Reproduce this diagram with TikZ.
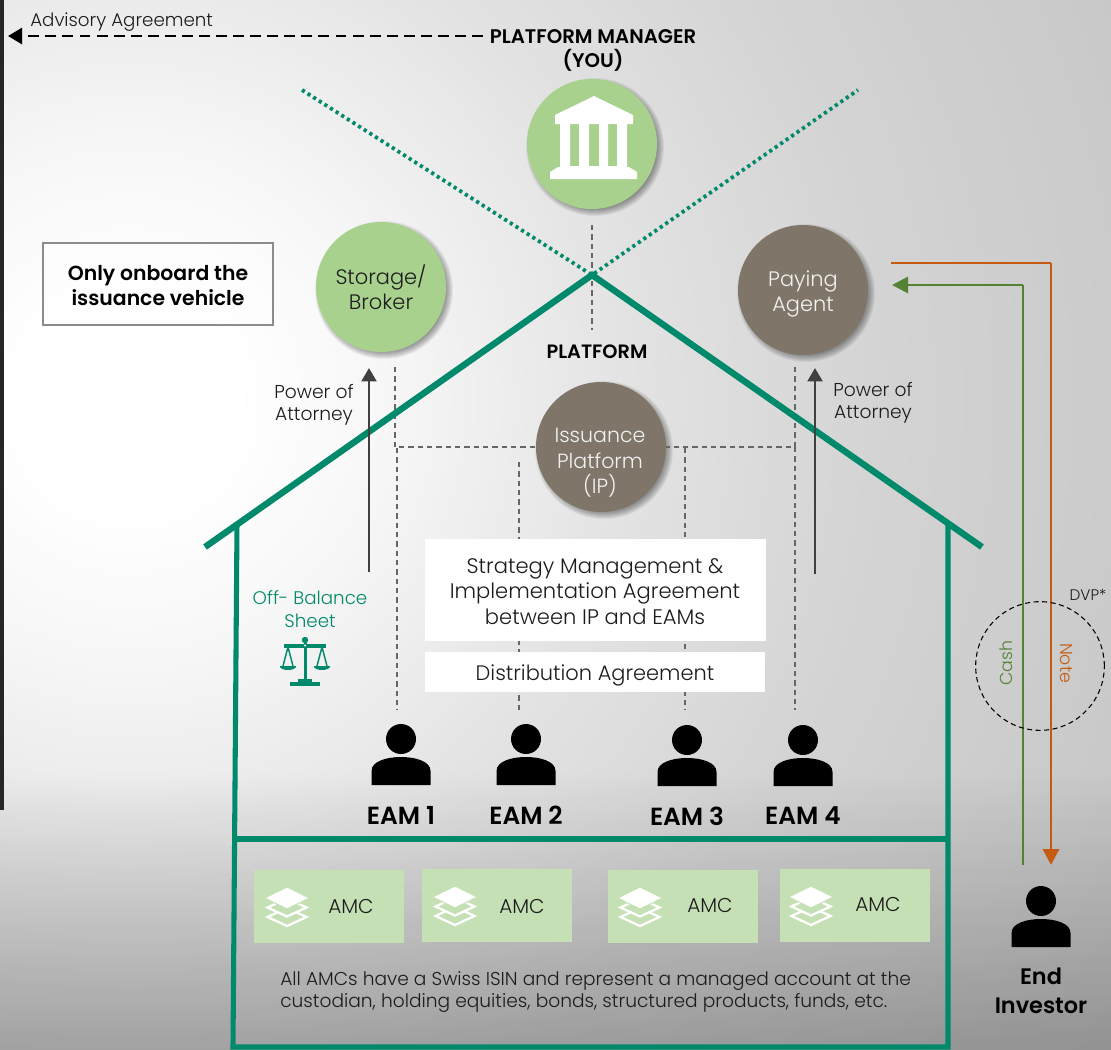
\documentclass[tikz,border=0pt]{standalone}
\usepackage{fontspec}
\setmainfont{Poppins Light}[BoldFont={Poppins SemiBold}]
\usetikzlibrary{arrows.meta}
\pgfdeclareradialshading{bgrad}{\pgfpoint{0bp}{0bp}}{color(0bp)=(white);color(2bp)=(white);color(4.8bp)=(black!3);color(9.6bp)=(black!11);color(14.4bp)=(black!17);color(21bp)=(black!22);color(25bp)=(black!24);color(50bp)=(black!24)}
\definecolor{housegreen}{HTML}{00896A}
\definecolor{lightgreen}{HTML}{A9D18E}
\definecolor{amcgreen}{HTML}{C5E0B4}
\definecolor{brownish}{HTML}{7F7669}
\definecolor{orangeline}{HTML}{C55A11}
\definecolor{cashgreen}{HTML}{548235}
\definecolor{txt}{HTML}{1C1C1C}
\tikzset{
  x=0.75pt,y=-0.75pt,
  every node/.style={font=\fontsize{15.7pt}{18.75pt}\selectfont,text=txt,align=center,inner sep=0pt},
  bubble/.style={circle,minimum size=97.5pt},
  greenbubble/.style={bubble,fill=lightgreen},
  brownbubble/.style={bubble,fill=brownish,text=black!5},
  house/.style={draw=housegreen,line width=4.8pt},
  wall/.style={draw=housegreen,line width=3.8pt},
  greydash/.style={draw=black!60,line width=0.8pt,dash pattern=on 4pt off 3pt},
  dotline/.style={draw=housegreen,line width=2.8pt,dash pattern=on 2.4pt off 2.6pt},
  upflow/.style={draw=black!75,line width=2.2pt,-{Triangle[length=10pt,width=11pt]}},
  whitebox/.style={fill=white,font=\fontsize{15.8pt}{19.3pt}\selectfont},
  amcbox/.style={fill=amcgreen,minimum width=112.5pt,minimum height=54.5pt},
  amclabel/.style={font=\fontsize{15pt}{16pt}\selectfont},
  poa/.style={font=\fontsize{14pt}{16.8pt}\selectfont},
  eamlabel/.style={font=\fontsize{18.6pt}{20pt}\selectfont\bfseries,text=black},
  person/.pic={
    \fill[black] (0,0) circle (15);
    \fill[black] (-29.5,46)--(-29.5,32) .. controls (-29.5,22) and (-14,18) .. (0,18) .. controls (14,18) and (29.5,22) .. (29.5,32) -- (29.5,46) -- cycle;
  },
  layers/.pic={
    \draw[white,line width=1.7pt,miter limit=10] (-19.5,19)--(0,10)--(19.5,19)--(0,28)--cycle;
    \filldraw[white,fill=amcgreen,line width=1.7pt,miter limit=10] (-19.5,9.5)--(0,0.5)--(19.5,9.5)--(0,18.5)--cycle;
    \filldraw[fill=white,draw=amcgreen,line width=.8pt] (-22.5,0)--(0,-11)--(22.5,0)--(0,11)--cycle;
  },
}
\begin{document}
\begin{tikzpicture}
\useasboundingbox (0,0) rectangle (1111,1050);
% background
\begin{scope}
  \clip (0,0) rectangle (1111,1050);
  \shade[shading=bgrad] (130,400) circle (1300);
  \foreach \yy in {770,774,...,1046}{
    \pgfmathsetmacro{\aa}{(\yy+2-770)/1100}
    \fill[black,opacity=\aa] (0,\yy) rectangle (1111,\yy+4);
  }
\end{scope}
\fill[black!85] (0,0) rectangle (4,810);

% dashed guide lines
\draw[greydash] (592,225) -- (592,330);
\coordinate (dl1) at (395,367);
\coordinate (dr1) at (795,367);
\coordinate (e1t) at (397,448); \coordinate (e1b) at (397,710);
\coordinate (e2t) at (519,462); \coordinate (e2b) at (519,710);
\coordinate (e3t) at (685,448); \coordinate (e3b) at (685,710);
\coordinate (e4t) at (795,447); \coordinate (e4b) at (795,710);
\draw[greydash] (e1t) -- (e1b);
\draw[greydash] (e2t) -- (e2b);
\draw[greydash] (e3t) -- (e3b);
\draw[greydash] (e4t) -- (e4b);

% dotted cross
\coordinate (apex) at (592,275);
\coordinate (dotl) at (302,90);
\coordinate (dotr) at (858,90);
\draw[dotline] (dotl) -- (apex) -- (dotr);

% soft shadows
\foreach \cx/\cy in {592/144,381/287,803/290,601/447}{
  \foreach \rr in {60,61,...,69}{
    \fill[black,opacity=.055] (\cx+3,\cy+3) circle (\rr);
  }
}

% bubbles
\node[greenbubble] (manager) at (592,144) {};
\node[greenbubble] (storage) at (381,287) {};
\node[font=\fontsize{15.7pt}{18.75pt}\selectfont] (storaget) at (381,287) {Storage/\\Broker};
\node[brownbubble] (paying) at (803,290) {};
\node[text=black!5,font=\fontsize{15.7pt}{18.75pt}\selectfont] (payingt) at (803,293.5) {Paying\\Agent};
\node[brownbubble] (ip) at (601,447) {};
\node[text=black!5,font=\fontsize{15.4pt}{19.2pt}\selectfont] (iptext) at (600,463) {Issuance\\Platform\\(IP)};
\draw[greydash] (dl1) |- (ip.west);
\draw[greydash] (dr1) |- (ip.east);

% bank icon
\fill[white] (594,96) -- (555,115) -- (555,124) -- (633,124) -- (633,115) -- cycle;
\fill[white] (560,124) rectangle (570,167) (579,124) rectangle (589,167) (599,124) rectangle (608,167) (617,124) rectangle (627,167);
\fill[white] (560,166) rectangle (627,171);
\fill[white] (550,179) -- (550,172) -- (558,167) -- (629,167) -- (637,172) -- (637,179) -- cycle;

% house
\draw[wall] (237,523) -- (233,1047) -- (948,1047) -- (948,523);
\draw[wall] (235,839) -- (948,839);
\draw[house,miter limit=10] (205,547) -- (apex) -- (982,547);

% top labels
\node[font=\fontsize{14.8pt}{18pt}\selectfont\bfseries,text=black] (pm) at (593,50) {PLATFORM MANAGER\\(YOU)};
\coordinate (pmw) at (483,36);
\coordinate (adv) at (8,36);
\draw[black,line width=1.9pt,dash pattern=on 8.2pt off 4.6pt,-{Triangle[length=10.5pt,width=12pt,fill=black]}] (pmw) -- (adv);
\node[anchor=west,font=\fontsize{13.7pt}{16pt}\selectfont] (advl) at (30,22) {Advisory Agreement};
\node[draw=black!45,line width=.9pt,fill=white,fill opacity=.35,text opacity=1,minimum width=172.5pt,minimum height=61.5pt] (only) at (158,284) {};
\node[font=\fontsize{15.3pt}{18.75pt}\selectfont\bfseries,text=black] (onlyt) at (158,286) {Only onboard the\\issuance vehicle};
\node[font=\fontsize{14.5pt}{16pt}\selectfont\bfseries,text=black] (plat) at (597,352) {PLATFORM};

% power of attorney
\coordinate (a1b) at (369,572); \coordinate (a1t) at (369,368);
\coordinate (a2b) at (815,574); \coordinate (a2t) at (815,368);
\draw[upflow] (a1b) -- (a1t);
\draw[upflow] (a2b) -- (a2t);
\node[poa] (poa1) at (314,405) {Power of\\Attorney};
\node[poa] (poa2) at (873,403) {Power of\\Attorney};

% off balance
\node[text=housegreen,font=\fontsize{13.7pt}{17.5pt}\selectfont] (obs) at (310,609) {Off- Balance\\Sheet};
\fill[housegreen] (303.5,642) rectangle (307,682);
\fill[housegreen] (305,640) circle (3.2);
\fill[housegreen] (284,644) rectangle (326,647.5);
\fill[housegreen] (298,679) rectangle (312,682);
\fill[housegreen] (290,681.5) rectangle (320,686);
\draw[housegreen,line width=1.1pt] (288,647) -- (283,666) (288,647) -- (293,666) (322,647) -- (317,666) (322,647) -- (327,666);
\fill[housegreen] (280,666) -- (280,667) .. controls (282,671) and (294,671) .. (296,667) -- (296,666) -- cycle;
\fill[housegreen] (314,666) -- (314,667) .. controls (316,671) and (328,671) .. (330,667) -- (330,666) -- cycle;
\fill[white] (305,645.5) circle (1.2);

% agreements
\node[whitebox,minimum width=255.5pt,minimum height=76.5pt] (sma) at (595.5,590) {};
\node[font=\fontsize{15.8pt}{19.3pt}\selectfont] (smat) at (595,591.5) {Strategy Management \&\\Implementation Agreement\\between IP and EAMs};
\node[whitebox,minimum width=255pt,minimum height=30pt] (dist) at (595,672) {};
\node[font=\fontsize{15.7pt}{19pt}\selectfont] (distt) at (595,675) {Distribution Agreement};

% EAMs
\pic at (401,739) {person};
\pic at (526,739) {person};
\pic at (687,740) {person};
\pic at (803,740) {person};
\node[eamlabel] (eam1) at (401,815) {EAM 1};
\node[eamlabel] (eam2) at (526,815) {EAM 2};
\node[eamlabel] (eam3) at (687,816) {EAM 3};
\node[eamlabel] (eam4) at (803,816) {EAM 4};

% AMCs
\node[amcbox] (amc1) at (328.5,906.5) {};
\node[amcbox] (amc2) at (497,905.5) {};
\node[amcbox] (amc3) at (683,906.5) {};
\node[amcbox] (amc4) at (855,905.5) {};
\pic at (287,898) {layers};
\pic at (455,897) {layers};
\pic at (640,898) {layers};
\pic at (811,897) {layers};
\node[amclabel] (t1) at (351,906) {AMC};
\node[amclabel] (t2) at (522,906) {AMC};
\node[amclabel] (t3) at (710,905) {AMC};
\node[amclabel] (t4) at (878,904) {AMC};
\node[anchor=west,align=left,font=\fontsize{13.96pt}{16.5pt}\selectfont] (amctext) at (280,992) {All AMCs have a Swiss ISIN and represent a managed account at the\\custodian, holding equities, bonds, structured products, funds, etc.};

% DVP flows
\coordinate (ns) at (891,263); \coordinate (nc) at (1051,263); \coordinate (ne) at (1051,865);
\coordinate (cs) at (1023,865); \coordinate (cc) at (1023,285); \coordinate (ce) at (892,285);
\draw[orangeline,line width=1.2pt] (ns) -- (nc);
\draw[orangeline,line width=2.2pt,-{Triangle[length=12pt,width=12pt]}] (nc) -- (ne);
\draw[cashgreen,line width=1pt] (cs) -- (cc);
\draw[cashgreen,line width=2.2pt,-{Triangle[length=12pt,width=12pt]}] (cc) -- (ce);
\node[circle,draw=black,line width=.8pt,dash pattern=on 3.8pt off 2.6pt,minimum size=96.5pt] (dvp) at (1040,666) {};
\node[font=\fontsize{11.5pt}{13pt}\selectfont] (dvpl) at (1088,595) {DVP*};
\node[rotate=90,text=cashgreen,font=\fontsize{13pt}{16pt}\selectfont] (cash) at (1006,663) {Cash};
\node[rotate=-90,text=orangeline,font=\fontsize{13pt}{16pt}\selectfont] (note) at (1066,663) {Note};

% end investor
\pic at (1041,901) {person};
\node[font=\fontsize{16.8pt}{22pt}\selectfont\bfseries,text=black] (end) at (1041,991) {End\\Investor};
\end{tikzpicture}
\end{document}
